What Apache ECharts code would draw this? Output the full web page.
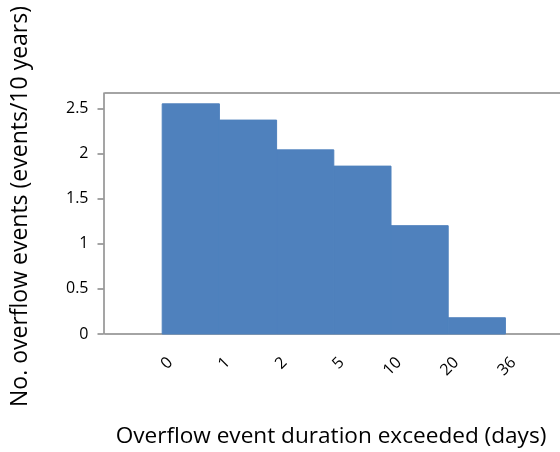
<!DOCTYPE html>
<html>
<head>
<meta charset="utf-8">
<script src="https://cdn.jsdelivr.net/npm/echarts@6/dist/echarts.min.js"></script>
<style>
  html, body { margin: 0; padding: 0; background: #fff; }
  #chart { width: 560px; height: 452px; }
</style>
</head>
<body>
<div id="chart"></div>
<script>
// Duration thresholds (days) marking the edges of each bin
const durationEdges = ['0', '1', '2', '5', '10', '20', '36'];
// Number of overflow events per 10 years for each bin
const eventsPer10Years = [2.55, 2.37, 2.04, 1.86, 1.2, 0.18];
// Value-axis tick labels
const yTicks = [0, 0.5, 1, 1.5, 2, 2.5];

const FONT = '"Open Sans", "Noto Sans", sans-serif';
const AXIS_GREY = '#878787';
const BAR_BLUE = '#4F81BD';

// Plot area geometry: the x range runs past the right edge of the canvas
const PLOT_LEFT = 105;
const BIN_PX = 57.2;
const LABEL_SHIFT = 8;
const xMaxFor = (left) => -1 + (560 - left) / BIN_PX;

const chart = echarts.init(document.getElementById('chart'), null, { renderer: 'canvas' });

const barData = eventsPer10Years.map((v, i) => [i, v]);

chart.setOption({
  animation: false,
  backgroundColor: '#ffffff',
  grid: [
    { left: PLOT_LEFT, right: 0, top: 93, bottom: 118, containLabel: false },
    // same scale, nudged right: carries the bin-edge labels
    { left: PLOT_LEFT + LABEL_SHIFT, right: 0, top: 93, bottom: 118, containLabel: false }
  ],
  xAxis: [
    {
      type: 'value', gridIndex: 0, min: -1, max: xMaxFor(PLOT_LEFT), interval: 1,
      axisLine: { show: true, onZero: false, lineStyle: { color: AXIS_GREY, width: 1.5 } },
      axisTick: { show: false },
      axisLabel: { show: false },
      splitLine: { show: false }
    },
    {
      type: 'value', gridIndex: 0, position: 'top', min: -1, max: xMaxFor(PLOT_LEFT), interval: 1,
      axisLine: { show: true, onZero: false, lineStyle: { color: AXIS_GREY, width: 1.5 } },
      axisTick: { show: false },
      axisLabel: { show: false },
      splitLine: { show: false }
    },
    {
      type: 'value', gridIndex: 1, min: -1, max: xMaxFor(PLOT_LEFT + LABEL_SHIFT), interval: 1,
      axisLine: { show: false, onZero: false },
      axisTick: { show: false },
      splitLine: { show: false },
      axisLabel: {
        show: true,
        rotate: 45,
        margin: 26,
        fontFamily: FONT,
        fontSize: 16,
        color: '#000',
        showMinLabel: false,
        showMaxLabel: false,
        formatter: (v) => {
          const i = Math.round(v);
          return (Math.abs(v - i) < 1e-6 && i >= 0 && i < durationEdges.length) ? durationEdges[i] : '';
        }
      }
    }
  ],
  yAxis: [
    {
      type: 'value', gridIndex: 0, min: 0, max: 2.67, interval: 0.5, offset: 1.5,
      axisLine: { show: true, onZero: false, lineStyle: { color: AXIS_GREY, width: 1.5 } },
      axisTick: { show: true, inside: false, length: 6, customValues: yTicks, lineStyle: { color: AXIS_GREY, width: 1.5 } },
      axisLabel: {
        show: true, margin: 15, fontFamily: FONT, fontSize: 16, color: '#000',
        customValues: yTicks,
        formatter: (v) => String(v)
      },
      splitLine: { show: false }
    },
    {
      type: 'value', gridIndex: 1, min: 0, max: 2.67, show: false
    }
  ],
  series: [
    {
      type: 'custom',
      xAxisIndex: 0,
      yAxisIndex: 0,
      data: barData,
      encode: { x: 0, y: 1 },
      renderItem: (params, api) => {
        const i = api.value(0);
        const v = api.value(1);
        const topLeft = api.coord([i, v]);
        const bottomRight = api.coord([i + 1, 0]);
        return {
          type: 'rect',
          shape: {
            x: topLeft[0],
            y: topLeft[1],
            width: bottomRight[0] - topLeft[0],
            height: bottomRight[1] - topLeft[1]
          },
          style: { fill: BAR_BLUE, stroke: BAR_BLUE, lineWidth: 1 }
        };
      },
      z: 1
    }
  ],
  graphic: [
    {
      type: 'text',
      x: 20, y: 206.5,
      rotation: Math.PI / 2,
      style: {
        text: 'No. overflow events (events/10 years)',
        font: '23px ' + FONT,
        fill: '#000',
        align: 'center',
        verticalAlign: 'middle'
      }
    },
    {
      type: 'text',
      x: 331, y: 437,
      style: {
        text: 'Overflow event duration exceeded (days)',
        font: '22.6px ' + FONT,
        fill: '#000',
        align: 'center',
        verticalAlign: 'middle'
      }
    }
  ]
});
</script>
</body>
</html>
